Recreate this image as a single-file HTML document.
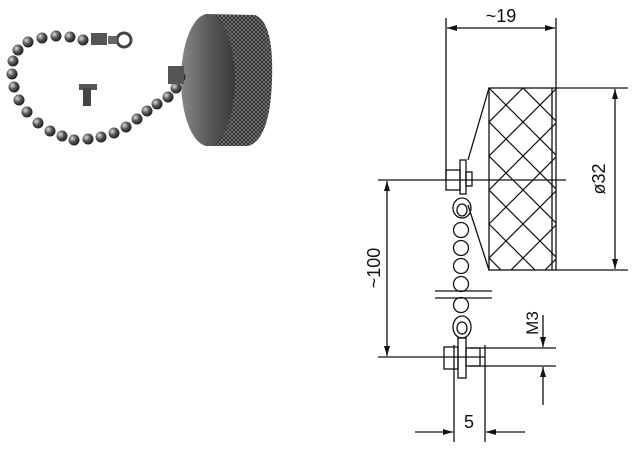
<!DOCTYPE html>
<html><head><meta charset="utf-8"><style>
html,body{margin:0;padding:0;background:#fff;width:640px;height:449px;overflow:hidden}
svg{display:block}
text{font-family:"Liberation Sans","DejaVu Sans",sans-serif;fill:#111}
</style></head><body>
<svg width="640" height="449" viewBox="0 0 640 449">
<defs>
<radialGradient id="ball" cx="0.35" cy="0.35" r="0.7">
<stop offset="0" stop-color="#ddd"/><stop offset="0.5" stop-color="#555"/><stop offset="1" stop-color="#1a1a1a"/>
</radialGradient>
<linearGradient id="face" x1="0" y1="0" x2="1" y2="0">
<stop offset="0" stop-color="#888"/><stop offset="0.5" stop-color="#5a5a5a"/><stop offset="1" stop-color="#3a3a3a"/>
</linearGradient>
<pattern id="knurl" width="4" height="4" patternUnits="userSpaceOnUse">
<rect width="4" height="4" fill="#7a7a7a"/><path d="M0 0L4 4M4 0L0 4" stroke="#2a2a2a" stroke-width="0.8"/>
</pattern>
<pattern id="x" width="34" height="34" patternUnits="userSpaceOnUse" x="489" y="88">
<path d="M0 0L34 34M34 0L0 34" stroke="#111" stroke-width="1.2"/>
</pattern>
<marker id="a" viewBox="0 0 10 6" refX="10" refY="3" markerWidth="10" markerHeight="6" orient="auto-start-reverse" markerUnits="userSpaceOnUse"><path d="M0 0L10 3L0 6z" fill="#111"/></marker>
</defs>

<!-- photo -->
<path d="M205 14 L255 15 Q274 22 272 80 Q270 140 248 146 L205 146 Z" fill="url(#knurl)"/>
<ellipse cx="208" cy="80" rx="27" ry="66" fill="url(#face)"/>
<g fill="url(#ball)">
<circle cx="180" cy="77" r="5.5"/><circle cx="176" cy="88" r="5.5"/><circle cx="168" cy="97" r="5.5"/>
<circle cx="157" cy="104" r="5.5"/><circle cx="147" cy="111" r="5.5"/><circle cx="137" cy="119" r="5.5"/>
<circle cx="126" cy="127" r="5.5"/><circle cx="114" cy="133" r="5.5"/><circle cx="101" cy="137" r="5.5"/>
<circle cx="88" cy="139" r="5.5"/><circle cx="74" cy="140" r="5.5"/><circle cx="62" cy="136" r="5.5"/>
<circle cx="50" cy="131" r="5.5"/><circle cx="38" cy="123" r="5.5"/><circle cx="27" cy="112" r="5.5"/>
<circle cx="19" cy="100" r="5.5"/><circle cx="14" cy="87" r="5.5"/><circle cx="12" cy="74" r="5.5"/>
<circle cx="13" cy="61" r="5.5"/><circle cx="18" cy="50" r="5.5"/><circle cx="28" cy="42" r="5.5"/>
<circle cx="42" cy="38" r="5.5"/><circle cx="56" cy="36" r="5.5"/><circle cx="70" cy="37" r="5.5"/>
<circle cx="83" cy="40" r="5.5"/>
</g>
<rect x="91" y="33" width="16" height="12" fill="#555"/>
<circle cx="124" cy="40" r="7" fill="none" stroke="#444" stroke-width="3"/>
<rect x="108" y="36" width="9" height="8" fill="#666"/>
<rect x="168" y="66" width="16" height="18" fill="#555"/>
<rect x="79" y="84" width="18" height="6" fill="#555"/>
<rect x="83" y="88" width="8" height="18" fill="#444"/>

<!-- drawing -->
<g stroke="#111" stroke-width="1.3" fill="none">
<line x1="446" y1="18" x2="446" y2="180"/>
<line x1="556" y1="18" x2="556" y2="88"/>
<line x1="447" y1="28" x2="555" y2="28" marker-start="url(#a)" marker-end="url(#a)"/>
<rect x="489" y="88" width="67" height="182" fill="url(#x)"/>
<line x1="552" y1="88" x2="552" y2="270"/>
<path d="M489 88 L468 160 M489 270 L468 205"/>
<line x1="556" y1="88" x2="628" y2="88"/>
<line x1="556" y1="270" x2="628" y2="270"/>
<line x1="615" y1="89" x2="615" y2="269" marker-start="url(#a)" marker-end="url(#a)"/>
<line x1="378" y1="180" x2="566" y2="180"/>
<line x1="378" y1="357" x2="485" y2="357"/>
<line x1="387" y1="181" x2="387" y2="356" marker-start="url(#a)" marker-end="url(#a)"/>
<rect x="446" y="170" width="14" height="20"/>
<rect x="460" y="160" width="6" height="34"/>
<rect x="466" y="172" width="6" height="14"/>
<ellipse cx="462" cy="208" rx="9" ry="10"/>
<ellipse cx="462" cy="210" rx="5" ry="6"/>
<circle cx="461" cy="230" r="7.5"/><circle cx="461" cy="248" r="7.5"/><circle cx="461" cy="266" r="7.5"/>
<circle cx="461" cy="284" r="7.5"/><circle cx="461" cy="305" r="7.5"/>
<line x1="435" y1="291" x2="492" y2="291"/><line x1="435" y1="298" x2="492" y2="298"/>
<ellipse cx="462" cy="327" rx="9" ry="11"/>
<ellipse cx="462" cy="328" rx="5" ry="6"/>
<rect x="444" y="347" width="14" height="22"/>
<rect x="458" y="338" width="8" height="40"/>
<rect x="466" y="348" width="14" height="18"/>
<line x1="470" y1="348" x2="556" y2="348"/>
<line x1="470" y1="366" x2="556" y2="366"/>
<line x1="543" y1="315" x2="543" y2="347" marker-end="url(#a)"/>
<line x1="543" y1="405" x2="543" y2="367" marker-end="url(#a)"/>
<line x1="454" y1="345" x2="454" y2="442"/>
<line x1="485" y1="345" x2="485" y2="442"/>
<line x1="415" y1="432" x2="453" y2="432" marker-end="url(#a)"/>
<line x1="525" y1="432" x2="486" y2="432" marker-end="url(#a)"/>
</g>
<text x="501" y="22" font-size="18" text-anchor="middle">~19</text>
<text transform="translate(605,179) rotate(-90)" font-size="18" text-anchor="middle">ø32</text>
<text transform="translate(380,268) rotate(-90)" font-size="18" text-anchor="middle">~100</text>
<text transform="translate(538,323) rotate(-90)" font-size="17" text-anchor="middle">M3</text>
<text x="469" y="428" font-size="18" text-anchor="middle">5</text>
</svg>
</body></html>
